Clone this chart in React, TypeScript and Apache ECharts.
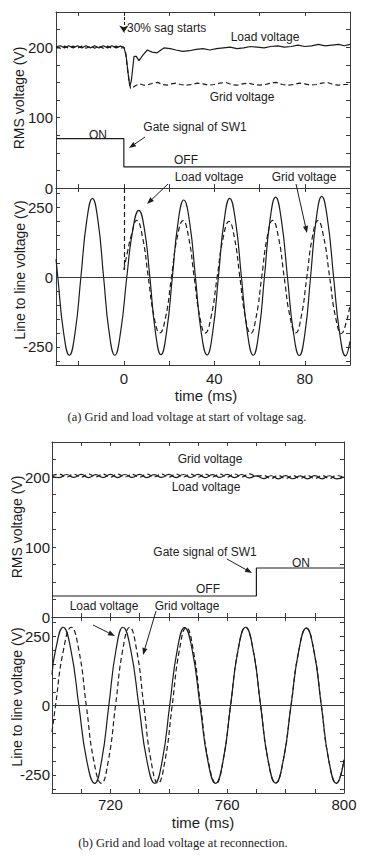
import React, { useEffect, useRef } from "react";
import * as echarts from "echarts";

// ---------- axis ticks / labels ----------
const aTimeTicks = [-20, 0, 20, 40, 60, 80, 100];
const aTimeLabels = [0, 40, 80];
const bTimeTicks = [710, 720, 730, 740, 750, 760, 770, 780, 790, 800];
const bTimeLabels = [720, 760, 800];
const rmsTicks = [0, 25, 50, 75, 100, 125, 150, 175, 200, 225, 250];
const rmsLabels = [0, 100, 200];
const lineTicks = [-300, -250, -200, -150, -100, -50, 0, 50, 100, 150, 200, 250, 300];
const lineLabels = [-250, 0, 250];

// ---------- (a) RMS voltages ----------
const aLoadRms = [
  [-30, 200.5], [-28.1, 202], [-26.2, 199], [-24.3, 202], [-22.4, 199], [-20.5, 202], [-18.6, 199],
  [-16.7, 202], [-14.8, 199], [-12.9, 202], [-11, 199], [-9.1, 202], [-7.2, 199], [-5.3, 202],
  [-3.4, 199], [-1.5, 201.5], [0, 200], [1, 188], [1.8, 165], [2.6, 145], [3.3, 152], [4.5, 187],
  [5.5, 187], [6.7, 181], [8.5, 189], [10.4, 196], [12.5, 193], [14.7, 192], [17.7, 199], [20.5, 198],
  [23, 196], [26, 194], [29, 195], [32, 197], [35, 198], [38, 196], [41, 198], [44, 199], [47, 200],
  [50, 198], [53, 199], [56, 201], [59, 200], [62, 199], [65, 201], [68, 202], [71, 200], [74, 201],
  [77, 203], [80, 201], [83, 202], [86, 204], [89, 202], [92, 203], [95, 204], [97.5, 202], [100, 204],
];
const aGridRms = [
  [-30, 199.5], [-28.1, 198.5], [-26.2, 201.5], [-24.3, 198.5], [-22.4, 201.5], [-20.5, 198.5],
  [-18.6, 201.5], [-16.7, 198.5], [-14.8, 201.5], [-12.9, 198.5], [-11, 201.5], [-9.1, 198.5],
  [-7.2, 201.5], [-5.3, 198.5], [-3.4, 201.5], [-1.5, 198.5], [0, 200], [0.8, 192], [1.6, 170],
  [2.4, 150], [3, 141], [4, 143], [5.5, 146], [7, 148], [9, 146], [11, 147], [13, 149], [15, 150],
  [17, 147], [19, 146], [21, 148], [23, 149], [25, 147], [27.5, 146], [30, 147], [32.5, 149],
  [35, 148], [37.5, 146], [40, 147], [42.5, 149], [45, 150], [47.5, 147], [50, 146], [52.5, 148],
  [55, 149], [57.5, 147], [60, 146], [62.5, 147], [65, 149], [67.5, 150], [70, 147], [72.5, 146],
  [75, 147], [77.5, 149], [80, 148], [82.5, 146], [85, 147], [87.5, 149], [90, 150], [92.5, 147],
  [95, 146], [97.5, 147], [100, 147],
];
const aGate = [[-30, 70], [0, 70], [0, 30], [100, 30]];

// ---------- (a) line-to-line voltages ----------
const aLoadLine = [
  [-30, 65], [-29.2, 0], [-26.65, -198], [-24.1, -280], [-21.55, -198], [-19, 0], [-16.45, 200],
  [-13.9, 283], [-11.4, 200], [-8.95, 0], [-6.5, -198], [-4, -280], [-1.35, -192], [1.3, 0],
  [3.95, 170], [6.6, 240], [9.05, 175], [11.5, 0], [13.95, -196], [16.4, -278], [18.9, -196],
  [21.45, 0], [23.95, 196], [26.5, 277], [29.1, 196], [31.65, 0], [34.2, -197], [36.8, -279],
  [39.3, -197], [41.8, 0], [44.3, 200], [46.8, 283], [49.4, 200], [52, 0], [54.6, -198],
  [57.2, -280], [59.7, -198], [62.15, 0], [64.6, 203], [67.1, 287], [69.7, 203], [72.35, 0],
  [75, -199], [77.6, -281], [80.1, -199], [82.55, 0], [85, 205], [87.5, 290], [90.1, 205],
  [92.75, 0], [95.4, -199], [98, -282], [100, -230],
];
const aGridLine = [
  [0, 26], [1.6, 90], [3.3, 150], [5.7, 204], [8.25, 144], [10.8, 0], [13.35, -142], [15.9, -200],
  [18.5, -142], [21.05, 0], [23.6, 143], [26.2, 203], [28.65, 143], [31.1, 0], [33.55, -141],
  [36, -200], [38.6, -141], [41.25, 0], [43.9, 141], [46.5, 200], [48.9, 141], [51.3, 0],
  [53.7, -143], [56.1, -202], [58.5, -143], [60.95, 0], [63.4, 144], [65.8, 204], [68.35, 144],
  [70.9, 0], [73.45, -141], [76, -200], [78.45, -141], [80.9, 0], [83.35, 143], [85.8, 203],
  [88.4, 143], [91, 0], [93.6, -143], [96.2, -202], [98.4, -160], [100, -100],
];

// ---------- (b) RMS voltages ----------
const bGridRms = [
  [700, 202], [702.5, 204.2], [705, 200], [707.5, 204], [710, 199.8], [712.5, 204.3], [715, 200.1],
  [717.5, 204.1], [720, 199.9], [722.5, 204.2], [725, 200], [727.5, 203.9], [730, 199.8],
  [732.5, 204.2], [735, 200.1], [737.5, 204], [740, 199.9], [742.5, 204.3], [745, 200],
  [747.5, 204.1], [750, 199.8], [752.5, 204.2], [755, 200.2], [757.5, 204], [760, 199.9],
  [762.5, 204.3], [765, 200], [767.5, 204.4], [770, 201], [772.5, 202], [775, 198], [777.5, 202.2],
  [780, 197.9], [782.5, 202], [785, 198.1], [787.5, 202.2], [790, 197.8], [792.5, 202.1],
  [795, 198], [797.5, 202.2], [800, 199.5],
];
const bLoadRms = [
  [700, 201], [702.5, 199.2], [705, 203.6], [707.5, 199.4], [710, 203.8], [712.5, 199.1], [715, 203.5],
  [717.5, 199.3], [720, 203.7], [722.5, 199.2], [725, 203.6], [727.5, 199.5], [730, 203.8],
  [732.5, 199.2], [735, 203.5], [737.5, 199.4], [740, 203.7], [742.5, 199.1], [745, 203.6],
  [747.5, 199.3], [750, 203.8], [752.5, 199.2], [755, 203.4], [757.5, 199.4], [760, 203.7],
  [762.5, 199.1], [765, 203.6], [767.5, 198.8], [770, 201.5], [772.5, 197.6], [775, 201.8],
  [777.5, 197.4], [780, 201.9], [782.5, 197.5], [785, 201.7], [787.5, 197.4], [790, 202],
  [792.5, 197.4], [795, 201.8], [797.5, 197.4], [800, 200],
];
const bGate = [[700, 30], [770, 30], [770, 70], [800, 70]];

// ---------- (b) line-to-line voltages ----------
const bLoadLine = [
  [700, 112], [701.2, 200], [703.8, 283], [706.5, 200], [709.2, 0], [711.9, -198], [714.6, -280],
  [717, -198], [719.45, 0], [721.9, 200], [724.3, 283], [727, 200], [729.75, 0], [732.5, -198],
  [735.2, -280], [737.75, -198], [740.3, 0], [742.85, 199], [745.4, 282], [748.05, 199], [750.7, 0],
  [753.35, -198], [756, -280], [758.6, -198], [761.15, 0], [763.7, 200], [766.3, 283], [768.9, 200],
  [771.45, 0], [774, -197], [776.6, -279], [779.2, -197], [781.85, 0], [784.5, 198], [787.1, 280],
  [789.7, 198], [792.25, 0], [794.8, -198], [797.4, -280], [800, -195],
];
const bGridLine = [
  [700, -95], [701.2, 0], [703.9, 200], [706.6, 283], [709.2, 200], [711.75, 0], [714.3, -198],
  [716.9, -280], [719.3, -198], [721.75, 0], [724.2, 200], [726.6, 283], [729, 200], [731.45, 0],
  [733.9, -198], [736.3, -280], [738.7, -198], [741.15, 0], [743.6, 199], [746, 282], [748.4, 199],
  [750.9, 0], [753.5, -198], [756.2, -280], [758.6, -198], [761.15, 0], [763.7, 200], [766.3, 283],
  [768.9, 200], [771.45, 0], [774, -197], [776.6, -279], [779.2, -197], [781.85, 0], [784.5, 198],
  [787.1, 280], [789.7, 198], [792.25, 0], [794.8, -198], [797.4, -280], [800, -195],
];

const FONT = "'Liberation Sans', Arial, Helvetica, sans-serif";
const SERIF = "'Liberation Serif', 'Times New Roman', serif";
const AX = "#3a3a3a";
const INK = "#1c1c1c";

function xAxes(grid: number, min: number, max: number, ticks: number[], labels: number[] | null, margin = 5) {
  const common = {
    type: "value", gridIndex: grid, min, max,
    axisLine: { show: true, onZero: false, lineStyle: { color: AX, width: 1 } },
    axisTick: { show: true, inside: true, length: 4, customValues: ticks, lineStyle: { color: AX, width: 1 } },
    splitLine: { show: false },
  };
  return [
    {
      ...common, position: "bottom",
      axisLabel: labels
        ? { show: true, customValues: labels, margin, color: INK, fontSize: 15, fontFamily: FONT }
        : { show: false },
    },
    { ...common, position: "top", axisLabel: { show: false } },
  ];
}
function yAxes(grid: number, min: number, max: number, ticks: number[], labels: number[], margin = 3) {
  const common = {
    type: "value", gridIndex: grid, min, max,
    axisLine: { show: true, onZero: false, lineStyle: { color: AX, width: 1 } },
    axisTick: { show: true, inside: true, length: 4, customValues: ticks, lineStyle: { color: AX, width: 1 } },
    splitLine: { show: false },
  };
  return [
    { ...common, position: "left", axisLabel: { show: true, customValues: labels, margin, color: INK, fontSize: 15, fontFamily: FONT } },
    { ...common, position: "right", axisLabel: { show: false } },
  ];
}

function solid(data: number[][], g: number, extra: any = {}) {
  return {
    type: "line", data, xAxisIndex: 2 * g, yAxisIndex: 2 * g, showSymbol: false, symbol: "none",
    lineStyle: { color: INK, width: 1.2, type: "solid" }, silent: true, ...extra,
  };
}
function dashed(data: number[][], g: number, extra: any = {}) {
  return {
    type: "line", data, xAxisIndex: 2 * g, yAxisIndex: 2 * g, showSymbol: false, symbol: "none",
    lineStyle: { color: INK, width: 1.2, type: [5, 3] }, silent: true, ...extra,
  };
}
const zeroLine = {
  silent: true, symbol: ["none", "none"], label: { show: false },
  lineStyle: { color: AX, width: 1, type: "solid" },
  data: [{ yAxis: 0 }],
};

function txt(text: string, x: number, y: number, size = 12, align = "center", font = FONT) {
  return {
    type: "text", x, y, z: 10,
    style: { text, fill: INK, fontSize: size, fontFamily: font, align, verticalAlign: "middle", textAlign: align, textVerticalAlign: "middle" },
  };
}
function vtxt(text: string, x: number, y: number) {
  return {
    type: "text", x, y, rotation: Math.PI / 2, z: 10,
    style: { text, fill: INK, fontSize: 14, fontFamily: FONT, align: "center", verticalAlign: "middle", textAlign: "center", textVerticalAlign: "middle" },
  };
}
function arrow(x1: number, y1: number, x2: number, y2: number) {
  const ang = Math.atan2(y2 - y1, x2 - x1);
  const L = 7, W = 2.6;
  const bx = x2 - L * Math.cos(ang), by = y2 - L * Math.sin(ang);
  const px = -Math.sin(ang) * W, py = Math.cos(ang) * W;
  return [
    { type: "line", z: 10, shape: { x1, y1, x2: bx, y2: by }, style: { stroke: INK, lineWidth: 1 } },
    { type: "polygon", z: 10, shape: { points: [[x2, y2], [bx + px, by + py], [bx - px, by - py]] }, style: { fill: INK } },
  ];
}

export default function App() {
  const ref = useRef<HTMLDivElement>(null);
  useEffect(() => {
    if (!ref.current) return;
    const chart = echarts.init(ref.current, undefined, { renderer: "svg" });
    const option: any = {
      animation: false,
      backgroundColor: "#fff",
      grid: [
        { left: 56, width: 294, top: 12, height: 176 },
        { left: 56, width: 294, top: 188, height: 177 },
        { left: 52, width: 292, top: 442, height: 175 },
        { left: 52, width: 292, top: 617, height: 176 },
      ],
      xAxis: [
        ...xAxes(0, -30, 100, aTimeTicks, null),
        ...xAxes(1, -30, 100, aTimeTicks, aTimeLabels, 6),
        ...xAxes(2, 700, 800, bTimeTicks, null),
        ...xAxes(3, 700, 800, bTimeTicks, bTimeLabels, 4),
      ],
      yAxis: [
        ...yAxes(0, 0, 250, rmsTicks, rmsLabels),
        ...yAxes(1, -315, 320, lineTicks, lineLabels),
        ...yAxes(2, 0, 250, rmsTicks, rmsLabels, 2),
        ...yAxes(3, -315, 320, lineTicks, lineLabels, 2),
      ],
      series: [
        solid(aLoadRms, 0, {
          markLine: {
            silent: true, symbol: ["none", "arrow"], symbolSize: 7, label: { show: false },
            lineStyle: { color: INK, width: 1, type: [3, 2] },
            data: [[{ coord: [0, 250] }, { coord: [0, 221] }]],
          },
        }),
        dashed(aGridRms, 0),
        solid(aGate, 0),
        solid(aLoadLine, 1, {
          smooth: 0.5,
          markLine: {
            silent: true, symbol: ["none", "none"], label: { show: false },
            lineStyle: { color: AX, width: 1, type: "solid" },
            data: [
              { yAxis: 0 },
              [{ coord: [0, 320], lineStyle: { type: [5, 3], color: INK, width: 1.2 } }, { coord: [0, 26] }],
            ],
          },
        }),
        dashed(aGridLine, 1, { smooth: 0.5 }),
        dashed(bGridRms, 2, { smooth: 0.5 }),
        solid(bLoadRms, 2, { smooth: 0.5 }),
        solid(bGate, 2),
        solid(bLoadLine, 3, { smooth: 0.5, markLine: zeroLine }),
        dashed(bGridLine, 3, { smooth: 0.5 }),
      ],
      graphic: [
        // axis names
        vtxt("RMS voltage (V)", 19, 98),
        vtxt("Line to line voltage (V)", 20, 270),
        vtxt("RMS voltage (V)", 17, 527),
        vtxt("Line to line voltage (V)", 17, 697),
        txt("time (ms)", 206, 395, 15),
        txt("time (ms)", 203, 822, 15),
        // panel (a) top annotations
        txt("30% sag starts", 127, 28, 12, "left"),
        txt("Load voltage", 265, 37),
        txt("Grid voltage", 242, 97),
        txt("Gate signal of SW1", 195, 127),
        ...arrow(145, 137, 129, 148),
        txt("ON", 98, 135),
        txt("OFF", 186, 160),
        // panel (a) bottom annotations
        txt("Load voltage", 209, 177),
        ...arrow(168, 184, 147, 204),
        txt("Grid voltage", 304, 177),
        ...arrow(296, 184, 307, 233),
        // panel (b) top annotations
        txt("Grid voltage", 210, 459),
        txt("Load voltage", 206, 487),
        txt("Gate signal of SW1", 205, 552),
        ...arrow(227, 559, 252, 573),
        txt("ON", 301, 563),
        txt("OFF", 208, 589),
        // panel (b) bottom annotations
        txt("Load voltage", 104, 606),
        ...arrow(93, 625, 115, 636),
        txt("Grid voltage", 187, 606),
        ...arrow(156, 611, 143, 655),
        // captions
        txt("(a) Grid and load voltage at start of voltage sag.", 187, 417, 12.5, "center", SERIF),
        txt("(b) Grid and load voltage at reconnection.", 183, 843, 12.5, "center", SERIF),
      ],
    };
    chart.setOption(option);
    return () => chart.dispose();
  }, []);
  return (
    <div
      ref={ref}
      style={{ position: "absolute", left: 0, top: 0, width: 372, height: 859, background: "#fff" }}
    />
  );
}
